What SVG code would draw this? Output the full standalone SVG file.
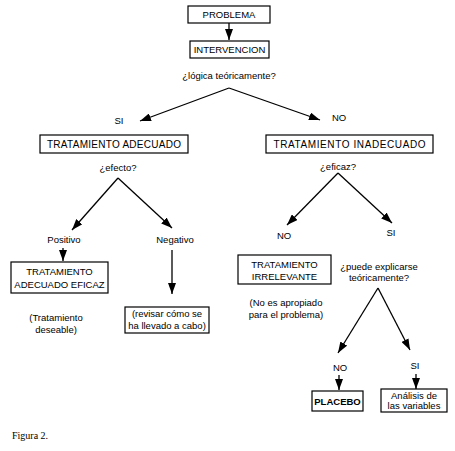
<svg xmlns="http://www.w3.org/2000/svg" width="455" height="451" viewBox="0 0 455 451">
<defs>
<style>
.box{fill:#fff;stroke:#000;stroke-width:1.2}
.t{font-family:"Liberation Sans",Arial,sans-serif;font-size:9.5px;fill:#000;text-anchor:middle}
.w{font-size:10px}
.b{font-weight:bold}
.c{stroke:#000;stroke-width:1.3;fill:none;marker-end:url(#ah)}
.fig{font-family:"Liberation Serif","Times New Roman",serif;font-size:10px;fill:#000}
</style>
<marker id="ah" markerUnits="userSpaceOnUse" markerWidth="12" markerHeight="8" refX="11" refY="4" orient="auto">
<path d="M0,0 L11,4 L0,8 z" fill="#000"/>
</marker>
</defs>
<rect width="455" height="451" fill="#fff"/>
<g id="connectors">
<line class="c" x1="229" y1="23" x2="229" y2="40"/>
<line class="c" x1="229" y1="88" x2="140" y2="121"/>
<line class="c" x1="229" y1="88" x2="320" y2="120"/>
<line class="c" x1="118" y1="178" x2="72" y2="230"/>
<line class="c" x1="118" y1="178" x2="172" y2="228"/>
<line class="c" x1="63" y1="248" x2="63" y2="261"/>
<line class="c" x1="172" y1="250" x2="172" y2="294"/>
<line class="c" x1="338" y1="173" x2="287" y2="225"/>
<line class="c" x1="338" y1="173" x2="392" y2="223"/>
<line class="c" x1="378" y1="288" x2="338" y2="353"/>
<line class="c" x1="378" y1="288" x2="410" y2="350"/>
<line class="c" x1="339" y1="375" x2="339" y2="390"/>
<line class="c" x1="416" y1="374" x2="416" y2="389"/>
</g>
<g id="problema"><rect class="box" x="188" y="6" width="82" height="17"/><text class="t" x="229" y="18">PROBLEMA</text></g>
<g id="intervencion"><rect class="box" x="190" y="41" width="79" height="17"/><text class="t" x="229.5" y="53">INTERVENCION</text></g>
<g id="q-logica"><text class="t" x="229" y="79">¿lógica teóricamente?</text></g>
<g id="lbl-si1"><text class="t" x="119" y="124">SI</text></g>
<g id="lbl-no1"><text class="t" x="339" y="121">NO</text></g>
<g id="adecuado"><rect class="box" x="40" y="135" width="148" height="18"/><text class="t w" x="114" y="148" textLength="134" lengthAdjust="spacing">TRATAMIENTO ADECUADO</text></g>
<g id="inadecuado"><rect class="box" x="266" y="135" width="167" height="18"/><text class="t w" x="349.5" y="148" textLength="152" lengthAdjust="spacing">TRATAMIENTO INADECUADO</text></g>
<g id="q-efecto"><text class="t" x="118" y="171">¿efecto?</text></g>
<g id="lbl-positivo"><text class="t" x="64" y="243">Positivo</text></g>
<g id="lbl-negativo"><text class="t" x="175" y="243">Negativo</text></g>
<g id="eficaz-box"><rect class="box" x="11" y="262" width="97" height="31"/><text class="t" x="59.5" y="275">TRATAMIENTO</text><text class="t" x="59.5" y="288">ADECUADO EFICAZ</text></g>
<g id="deseable"><text class="t" x="56" y="321">(Tratamiento</text><text class="t" x="56" y="333">deseable)</text></g>
<g id="revisar"><rect class="box" x="125" y="307" width="84" height="26"/><text class="t" x="167" y="317">(revisar cómo se</text><text class="t" x="167" y="329">ha llevado a cabo)</text></g>
<g id="q-eficaz"><text class="t" x="338" y="170">¿eficaz?</text></g>
<g id="lbl-no2"><text class="t" x="284" y="239">NO</text></g>
<g id="lbl-si2"><text class="t" x="391" y="236">SI</text></g>
<g id="irrelevante"><rect class="box" x="238" y="255" width="93" height="29"/><text class="t" x="284.5" y="268">TRATAMIENTO</text><text class="t" x="284.5" y="280">IRRELEVANTE</text></g>
<g id="no-apropiado"><text class="t" x="286" y="306">(No es apropiado</text><text class="t" x="286" y="318">para el problema)</text></g>
<g id="q-puede"><text class="t" x="379" y="270">¿puede explicarse</text><text class="t" x="379" y="281">teóricamente?</text></g>
<g id="lbl-no3"><text class="t" x="340" y="371">NO</text></g>
<g id="lbl-si3"><text class="t" x="415" y="369">SI</text></g>
<g id="placebo"><rect class="box" x="312" y="391" width="51" height="20"/><text class="t b" x="337.5" y="405">PLACEBO</text></g>
<g id="analisis"><rect class="box" x="381" y="389" width="66" height="23"/><text class="t" x="414" y="399">Análisis de</text><text class="t" x="414" y="409">las variables</text></g>
<g id="caption"><text class="fig" x="12" y="439">Figura 2.</text></g>
</svg>
